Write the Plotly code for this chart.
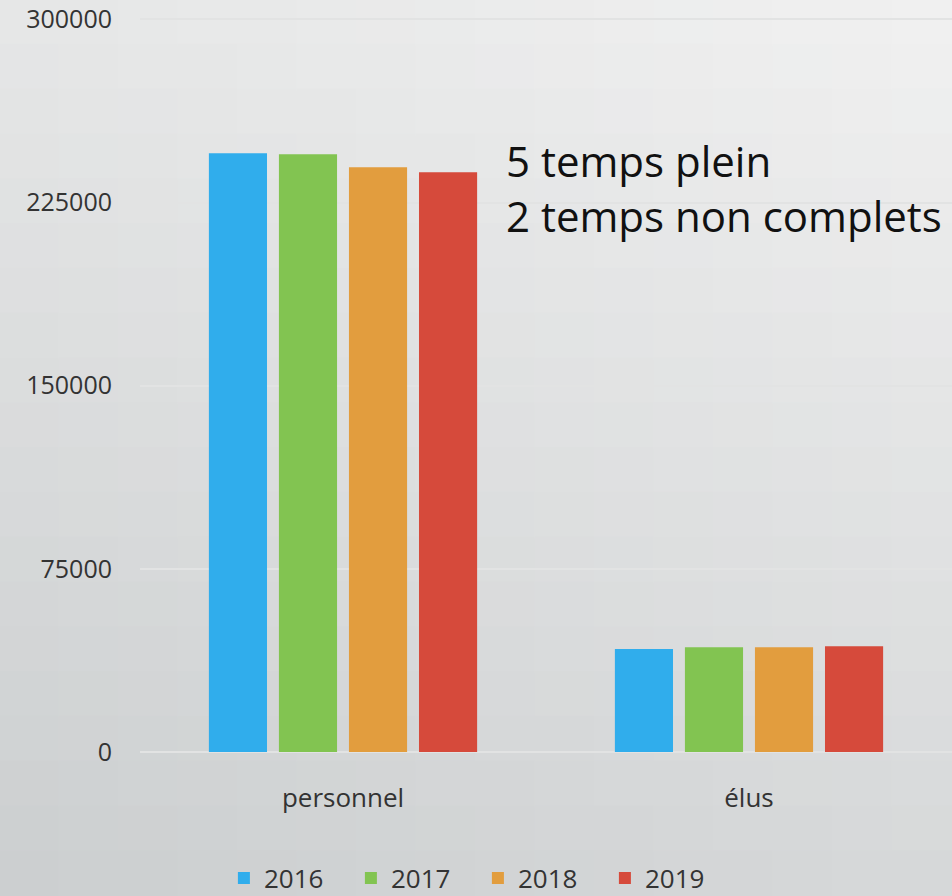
import plotly.graph_objects as go

categories = ["personnel", "élus"]
years = ["2016", "2017", "2018", "2019"]
values = {
    "2016": [245200, 42200],
    "2017": [244800, 42900],
    "2018": [239500, 42900],
    "2019": [237400, 43300],
}
colors = {"2016": "#30adec", "2017": "#82c451", "2018": "#e29d3e", "2019": "#d64a3b"}
tick_vals = [0, 75000, 150000, 225000, 300000]
tick_text = ["0", "75000", "150000", "225000", "300000"]
note = "5 temps plein<br>2 temps non complets"

FONT = "Open Sans"
W, H = 952, 896
L, R, T, B = 140, 0, 18, 144
PW, PH = W - L - R, H - T - B

fig = go.Figure()
for y in years:
    fig.add_trace(go.Bar(name=y, x=categories, y=values[y],
                         marker=dict(color=colors[y], line=dict(width=0))))

# background gradient (bilinear between corner colours)
tl = (0xe6, 0xe7, 0xe7)
tr = (0xf1, 0xf1, 0xf1)
bl = (0xcb, 0xce, 0xcf)
br = (0xd6, 0xd8, 0xd9)
shapes = []
nx, ny = 16, 20
for i in range(nx):
    for j in range(ny):
        u = (i + 0.5) / nx
        v = (j + 0.5) / ny
        c = [round((1 - v) * ((1 - u) * tl[k] + u * tr[k]) + v * ((1 - u) * bl[k] + u * br[k])) for k in range(3)]
        px0, px1 = W * i / nx - 1, W * (i + 1) / nx + 1
        py0, py1 = H * j / ny - 1, H * (j + 1) / ny + 1
        shapes.append(dict(type="rect", xref="paper", yref="paper", layer="below",
                           x0=(px0 - L) / PW, x1=(px1 - L) / PW,
                           y0=1 - (py1 - T) / PH, y1=1 - (py0 - T) / PH,
                           fillcolor="rgb(%d,%d,%d)" % tuple(c), line=dict(width=0)))

fig.update_layout(
    width=W, height=H,
    margin=dict(l=L, r=R, t=T, b=B),
    barmode="group", bargap=0.31, bargroupgap=0.17,
    paper_bgcolor="#dcdedf", plot_bgcolor="rgba(0,0,0,0)",
    font=dict(family=FONT, color="#333333", size=24),
    shapes=shapes,
    showlegend=True,
    legend=dict(orientation="h", xref="container", yref="container", x=0.502, xanchor="center",
                y=0.02, yanchor="middle", font=dict(size=26), bgcolor="rgba(0,0,0,0)",
                itemwidth=30, entrywidth=82, entrywidthmode="pixels", tracegroupgap=0),
    xaxis=dict(showgrid=False, ticks="", ticklabelstandoff=28, tickfont=dict(size=26), showline=False),
    yaxis=dict(range=[0, 300600], tickvals=tick_vals, ticktext=tick_text, showgrid=True,
               gridcolor="#e2e3e3", gridwidth=2, zeroline=True, zerolinecolor="#e2e3e3",
               zerolinewidth=2, ticklabelstandoff=27, tickfont=dict(size=25),
               ticklabeloverflow="allow"),
    annotations=[dict(text=note, xref="paper", yref="paper", x=(504 - L) / PW, y=1 - (188 - T) / PH,
                      xanchor="left", yanchor="middle", align="left", showarrow=False,
                      font=dict(size=42, color="#111111", family=FONT))],
)
fig.write_html("out.html", config={"displayModeBar": False},
               post_script="document.body.style.margin='0';")
